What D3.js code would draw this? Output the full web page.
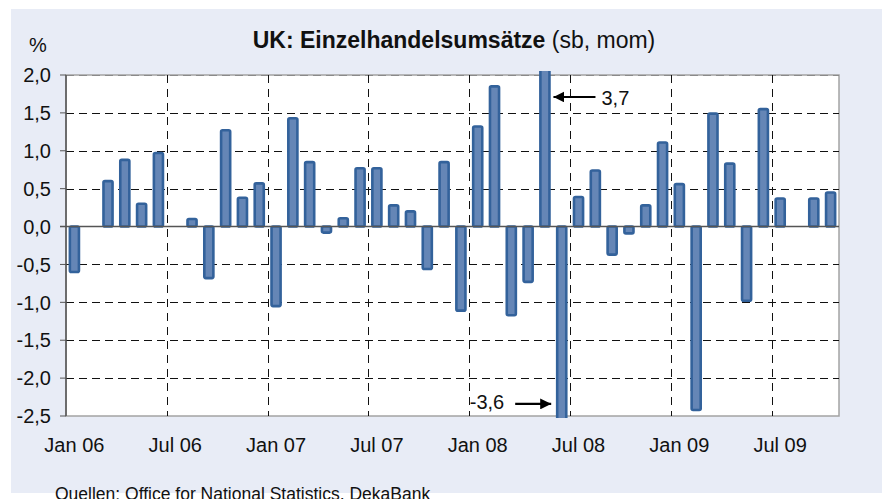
<!DOCTYPE html>
<html>
<head>
<meta charset="utf-8">
<script src="https://cdn.jsdelivr.net/npm/d3@7"></script>
<style>
    body { margin: 0; background: #fff; }
    svg { display: block; font-family: "Liberation Sans", Arial, sans-serif; }
</style>
</head>
<body>
<div id="chart"></div>
<script>
// months Jan 06 .. Oct 09
var months = [
    "2006-01","2006-02","2006-03","2006-04","2006-05","2006-06","2006-07","2006-08","2006-09","2006-10","2006-11","2006-12",
    "2007-01","2007-02","2007-03","2007-04","2007-05","2007-06","2007-07","2007-08","2007-09","2007-10","2007-11","2007-12",
    "2008-01","2008-02","2008-03","2008-04","2008-05","2008-06","2008-07","2008-08","2008-09","2008-10","2008-11","2008-12",
    "2009-01","2009-02","2009-03","2009-04","2009-05","2009-06","2009-07","2009-08","2009-09","2009-10"
];
// retail sales, % mom (sa)
var values = [
    -0.6, null, 0.6, 0.88, 0.3, 0.97, null, 0.1, -0.68, 1.27, 0.38, 0.57,
    -1.05, 1.43, 0.85, -0.08, 0.11, 0.77, 0.77, 0.28, 0.2, -0.56, 0.85, -1.11,
    1.32, 1.85, -1.17, -0.73, 3.7, -3.6, 0.39, 0.74, -0.37, -0.09, 0.28, 1.11,
    0.56, -2.42, 1.49, 0.83, -0.98, 1.55, 0.37, null, 0.37, 0.45
];
var tickMonths = ["2006-01","2006-07","2007-01","2007-07","2008-01","2008-07","2009-01","2009-07"];
var tickLabels = ["Jan 06","Jul 06","Jan 07","Jul 07","Jan 08","Jul 08","Jan 09","Jul 09"];
var yTicks = [2.0, 1.5, 1.0, 0.5, 0.0, -0.5, -1.0, -1.5, -2.0, -2.5];

var width = 882, height = 499;
var plotLeft = 66, plotRight = 839, plotTop = 75, plotBottom = 416;

var de = d3.formatLocale({decimal: ",", thousands: ".", grouping: [3], currency: ["", " €"], minus: "-"});
var fmt = de.format(".1f");

var svg = d3.select("#chart").append("svg")
    .attr("width", width)
    .attr("height", height);

svg.append("rect")
    .attr("x", 11).attr("y", 9)
    .attr("width", width - 11).attr("height", 484)
    .attr("fill", "#e8ecf6");

var x = d3.scaleBand()
    .domain(months)
    .range([plotLeft, plotRight])
    .paddingInner(0.46)
    .paddingOuter(0.23);

var y = d3.scaleLinear()
    .domain([-2.5, 2.0])
    .range([plotBottom, plotTop]);

svg.append("rect")
    .attr("x", plotLeft).attr("y", plotTop)
    .attr("width", plotRight - plotLeft).attr("height", plotBottom - plotTop)
    .attr("fill", "#fff")
    .attr("stroke", "#a3a3a3")
    .attr("stroke-width", 1.5);

// horizontal grid
svg.append("g").selectAll("line")
    .data(yTicks.filter(function (d) { return d !== 0 && d !== -2.5; }))
    .enter().append("line")
    .attr("x1", plotLeft).attr("x2", plotRight)
    .attr("y1", function (d) { return Math.round(y(d)) + 0.5; })
    .attr("y2", function (d) { return Math.round(y(d)) + 0.5; })
    .attr("stroke", function (d) { return d === 2.0 ? "#8a8a8a" : "#111"; })
    .attr("stroke-width", 1)
    .attr("stroke-dasharray", "8,5");

// vertical grid at the start of each labelled half-year
function cellStart(m) {
    return x(m) - x.step() * x.paddingInner() / 2;
}
svg.append("g").selectAll("line")
    .data(tickMonths.slice(1))
    .enter().append("line")
    .attr("x1", function (d) { return Math.round(cellStart(d)) + 0.5; })
    .attr("x2", function (d) { return Math.round(cellStart(d)) + 0.5; })
    .attr("y1", plotTop).attr("y2", plotBottom)
    .attr("stroke", "#111")
    .attr("stroke-width", 1)
    .attr("stroke-dasharray", "8,6");

// bars
svg.append("clipPath").attr("id", "clip")
    .append("rect")
    .attr("x", plotLeft).attr("y", plotTop - 4)
    .attr("width", plotRight - plotLeft).attr("height", plotBottom - plotTop + 6);

var data = months.map(function (m, i) { return {m: m, v: values[i]}; })
    .filter(function (d) { return d.v !== null; });

svg.append("g")
    .attr("clip-path", "url(#clip)")
    .selectAll("rect")
    .data(data)
    .enter().append("rect")
    .attr("x", function (d) { return x(d.m); })
    .attr("width", x.bandwidth())
    .attr("y", function (d) { return y(Math.max(0, d.v)); })
    .attr("height", function (d) { return Math.abs(y(d.v) - y(0)); })
    .attr("rx", 1.5)
    .attr("fill", "#6586b6")
    .attr("stroke", "#33629b")
    .attr("stroke-width", 2.6);

// zero line and y axis
svg.append("line")
    .attr("x1", plotLeft - 6).attr("x2", plotRight)
    .attr("y1", y(0)).attr("y2", y(0))
    .attr("stroke", "#555").attr("stroke-width", 1.5);

svg.append("line")
    .attr("x1", plotLeft).attr("x2", plotLeft)
    .attr("y1", plotTop).attr("y2", plotBottom)
    .attr("stroke", "#555").attr("stroke-width", 1.5);

svg.append("g").selectAll("line")
    .data(yTicks)
    .enter().append("line")
    .attr("x1", plotLeft - 6).attr("x2", plotLeft)
    .attr("y1", function (d) { return y(d); })
    .attr("y2", function (d) { return y(d); })
    .attr("stroke", "#555").attr("stroke-width", 1);

svg.append("g").selectAll("text")
    .data(yTicks)
    .enter().append("text")
    .attr("x", 51)
    .attr("y", function (d) { return y(d); })
    .attr("dy", "0.36em")
    .attr("text-anchor", "end")
    .attr("font-size", 20)
    .attr("fill", "#111")
    .text(function (d) { return fmt(d); });

svg.append("text")
    .attr("x", 38).attr("y", 52)
    .attr("text-anchor", "middle")
    .attr("font-size", 20)
    .attr("fill", "#111")
    .text("%");

// x labels
svg.append("g").selectAll("text")
    .data(tickMonths)
    .enter().append("text")
    .attr("x", function (d) { return x(d) + x.bandwidth() / 2; })
    .attr("y", 452)
    .attr("text-anchor", "middle")
    .attr("font-size", 20)
    .attr("fill", "#111")
    .text(function (d, i) { return tickLabels[i]; });

// title
var title = svg.append("text")
    .attr("x", 454).attr("y", 48)
    .attr("text-anchor", "middle")
    .attr("font-size", 23)
    .attr("fill", "#111");
title.append("tspan").attr("font-weight", "bold").text("UK: Einzelhandelsumsätze");
title.append("tspan").text(" (sb, mom)");

// annotations for clipped bars
svg.append("defs").append("marker")
    .attr("id", "arrow")
    .attr("viewBox", "0 0 10 10")
    .attr("refX", 10).attr("refY", 5)
    .attr("markerWidth", 5).attr("markerHeight", 5)
    .attr("markerUnits", "strokeWidth")
    .attr("orient", "auto")
    .append("path")
    .attr("d", "M0,0 L10,5 L0,10 z")
    .attr("fill", "#000");

var hi = "2008-05", lo = "2008-06";
var hiX = x(hi) + x.bandwidth() + 4;
svg.append("line")
    .attr("x1", hiX + 42).attr("x2", hiX)
    .attr("y1", y(1.71)).attr("y2", y(1.71))
    .attr("stroke", "#000").attr("stroke-width", 2.2)
    .attr("marker-end", "url(#arrow)");
svg.append("text")
    .attr("x", hiX + 48).attr("y", y(1.71) + 8)
    .attr("font-size", 20).attr("fill", "#111")
    .text(fmt(values[months.indexOf(hi)]));

var loX = x(lo) - 6;
svg.append("line")
    .attr("x1", loX - 36).attr("x2", loX)
    .attr("y1", y(-2.34)).attr("y2", y(-2.34))
    .attr("stroke", "#000").attr("stroke-width", 2.2)
    .attr("marker-end", "url(#arrow)");
svg.append("text")
    .attr("x", loX - 47).attr("y", y(-2.34) + 5)
    .attr("text-anchor", "end")
    .attr("font-size", 20).attr("fill", "#111")
    .text(fmt(values[months.indexOf(lo)]));

// source
svg.append("text")
    .attr("x", 55).attr("y", 500)
    .attr("font-size", 17.5)
    .attr("fill", "#111")
    .text("Quellen: Office for National Statistics,  DekaBank");
</script>
</body>
</html>
